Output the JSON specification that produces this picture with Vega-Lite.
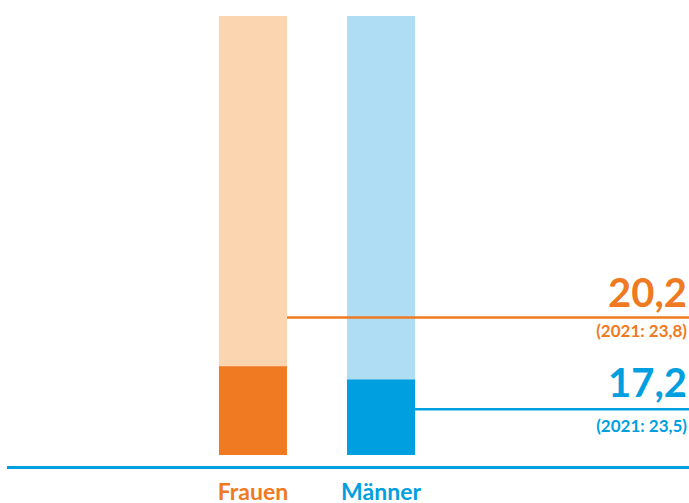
{
  "$schema": "https://vega.github.io/schema/vega-lite/v6.json",
  "width": 682,
  "height": 467,
  "autosize": {"type": "none"},
  "padding": {"left": 7, "top": 0, "right": 0, "bottom": 36},
  "config": {"view": {"stroke": null}, "font": "Lato"},
  "data": {"values": [
    {"cat": "Frauen", "value": 20.2, "total": 100, "label": "20,2", "prev": "(2021: 23,8)"},
    {"cat": "Männer", "value": 17.2, "total": 100, "label": "17,2", "prev": "(2021: 23,5)"}
  ]},
  "encoding": {
    "x": {
      "field": "cat", "type": "nominal", "sort": ["Frauen", "Männer"],
      "scale": {"type": "band", "range": [182, 438], "paddingInner": 0.469, "paddingOuter": 0.234},
      "axis": {
        "title": null, "orient": "bottom", "grid": false, "ticks": false, "tickSize": 0,
        "domain": false,
        "labelAngle": 0, "labelFont": "Lato", "labelFontSize": 23, "labelFontWeight": "bold",
        "labelPadding": 14,
        "labelColor": {"condition": {"test": "datum.value === 'Frauen'", "value": "#EF7A22"}, "value": "#009FE0"}
      }
    }
  },
  "layer": [
    {
      "mark": {"type": "bar"},
      "encoding": {
        "y": {"field": "total", "type": "quantitative", "scale": {"domain": [0, 100], "range": [455, 16], "nice": false}, "axis": null},
        "color": {"condition": {"test": "datum.cat === 'Frauen'", "value": "#FAD5B0"}, "value": "#AEDDF4"}
      }
    },
    {
      "mark": {"type": "bar"},
      "encoding": {
        "y": {"field": "value", "type": "quantitative"},
        "color": {"condition": {"test": "datum.cat === 'Frauen'", "value": "#EF7A22"}, "value": "#009FE0"}
      }
    },
    {
      "transform": [{"filter": "datum.cat === 'Frauen'"}],
      "layer": [
        {
          "mark": {"type": "rule", "color": "#009FE0", "strokeWidth": 3},
          "encoding": {
            "x": {"value": 0},
            "x2": {"value": "width"},
            "y": {"datum": -2.85}
          }
        },
        {
          "mark": {"type": "rule", "color": "#EF7A22", "strokeWidth": 2.5},
          "encoding": {
            "x": {"field": "cat", "type": "nominal", "bandPosition": 1},
            "x2": {"value": "width"},
            "y": {"datum": 31.3}
          }
        },
        {
          "mark": {"type": "text", "align": "right", "baseline": "alphabetic", "dx": -2, "fontSize": 40, "fontWeight": "bold", "color": "#EF7A22", "font": "Lato"},
          "encoding": {"x": {"value": "width"}, "y": {"datum": 33.7}, "text": {"field": "label"}}
        },
        {
          "mark": {"type": "text", "align": "right", "baseline": "alphabetic", "dx": -2, "fontSize": 17, "fontWeight": "bold", "color": "#EF7A22", "font": "Lato"},
          "encoding": {"x": {"value": "width"}, "y": {"datum": 26.9}, "text": {"field": "prev"}}
        }
      ]
    },
    {
      "transform": [{"filter": "datum.cat === 'Männer'"}],
      "layer": [
        {
          "mark": {"type": "rule", "color": "#009FE0", "strokeWidth": 2.5},
          "encoding": {
            "x": {"field": "cat", "type": "nominal", "bandPosition": 1},
            "x2": {"value": "width"},
            "y": {"datum": 10.4}
          }
        },
        {
          "mark": {"type": "text", "align": "right", "baseline": "alphabetic", "dx": -2, "fontSize": 40, "fontWeight": "bold", "color": "#009FE0", "font": "Lato"},
          "encoding": {"x": {"value": "width"}, "y": {"datum": 13.2}, "text": {"field": "label"}}
        },
        {
          "mark": {"type": "text", "align": "right", "baseline": "alphabetic", "dx": -2, "fontSize": 17, "fontWeight": "bold", "color": "#009FE0", "font": "Lato"},
          "encoding": {"x": {"value": "width"}, "y": {"datum": 5.24}, "text": {"field": "prev"}}
        }
      ]
    }
  ]
}
